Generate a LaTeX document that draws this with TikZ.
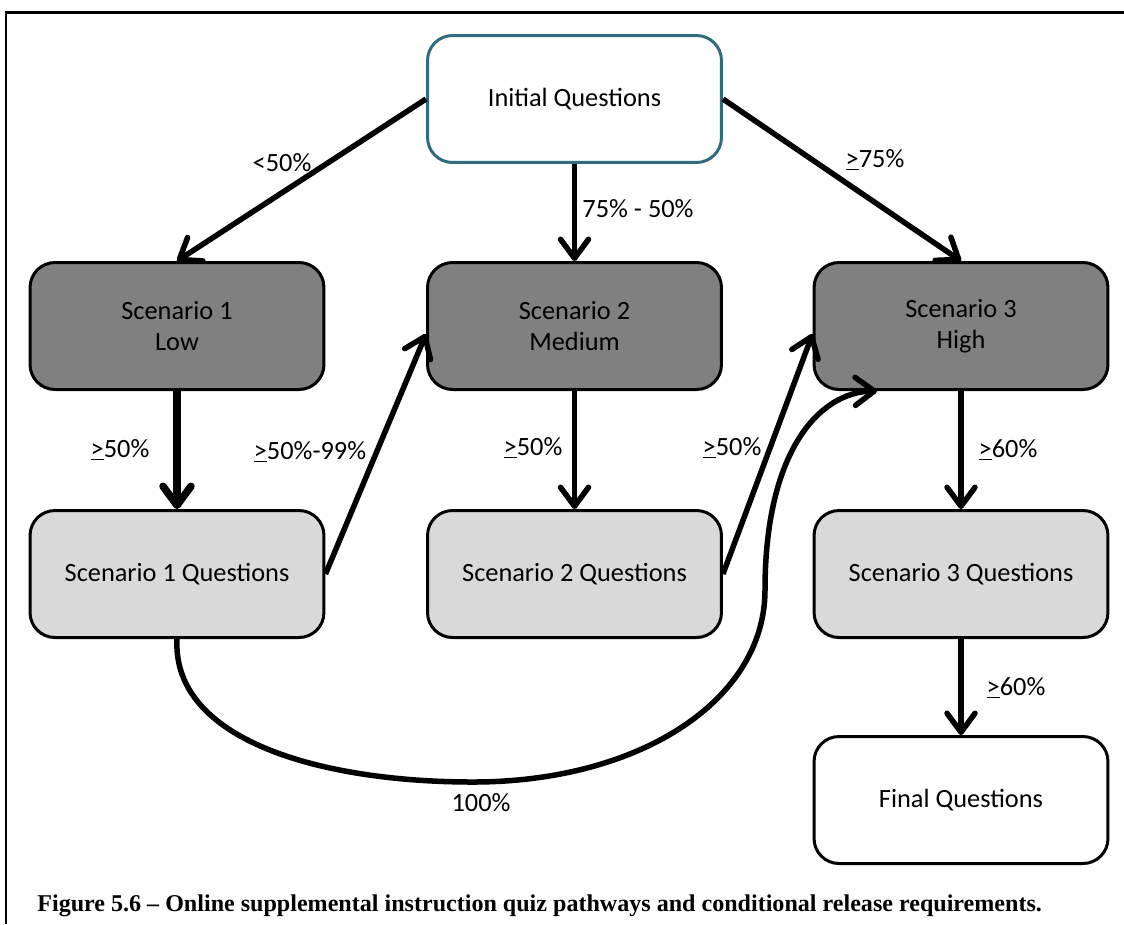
\documentclass[tikz,border=0pt]{standalone}
\usepackage{fontspec}
\setmainfont{Carlito}
\newfontfamily\capfont{Liberation Serif}
\usetikzlibrary{arrows.meta,calc}
\definecolor{tealborder}{HTML}{316B7E}
\definecolor{darkfill}{HTML}{808080}
\definecolor{lightfill}{HTML}{D9D9D9}
\begin{document}
\begin{tikzpicture}[x=0.02cm,y=-0.02cm,
  box/.style={draw=black, line width=0.06cm, rounded corners=0.5cm,
    minimum width=5.88cm, minimum height=2.54cm, align=center,
    font=\fontsize{15}{18}\selectfont, inner sep=0pt},
  darkbox/.style={box, fill=darkfill},
  lightbox/.style={box, fill=lightfill},
  whitebox/.style={box, fill=white},
  initbox/.style={box, fill=white, draw=tealborder},
  conn/.style={line width=0.11cm, -{Straight Barb[round,length=0.38cm,width=0.56cm]}},
  thickconn/.style={conn, line width=0.15cm},
  lbl/.style={font=\fontsize{15}{18}\selectfont, inner sep=0pt},
  caption/.style={font=\capfont\bfseries\fontsize{13.7}{16}\selectfont, inner sep=0pt, anchor=base west}]
\useasboundingbox (0,0) rectangle (1124,924);
\draw[line width=0.06cm] (6,924) -- (6,12) -- (1124,12);

\node[initbox]  (init) at (574.5,99) {Initial Questions};
\node[darkbox]  (s1)   at (177,326)  {Scenario 1\\Low};
\node[darkbox]  (s2)   at (574.5,326) {Scenario 2\\Medium};
\node[darkbox]  (s3)   at (961,326)  {Scenario 3\\High};
\node[lightbox] (s1q)  at (177,574)  {Scenario 1 Questions};
\node[lightbox] (s2q)  at (574.5,574) {Scenario 2 Questions};
\node[lightbox] (s3q)  at (961,574)  {Scenario 3 Questions};
\node[whitebox] (fin)  at (961,800)  {Final Questions};

\draw[conn] (init.west) -- (s1.north);
\draw[conn] (init.south) -- (s2.north);
\draw[conn] (init.east) -- (s3.north);
\draw[thickconn] (s1.south) -- (s1q.north);
\draw[conn] (s2.south) -- (s2q.north);
\draw[conn] (s3.south) -- (s3q.north);
\draw[conn] (s3q.south) -- (fin.north);
\draw[conn] (s1q.east) -- ([shift={(0,8)}]s2.west);
\draw[conn] (s2q.east) -- ([shift={(0,8)}]s3.west);
\draw[conn] (s1q.south) .. controls (172,740) and (320,782) .. (473,782)
  .. controls (640,782) and (765,700) .. (765,590)
  .. controls (765,450) and (820,392) .. ([shift={(-84,0)}]s3.south);

\node[lbl] (l1) at (282,163) {<50\%};
\node[lbl] (l2) at (638,209) {75\% - 50\%};
\node[lbl] (l3) at (875,160) {\underline{>}75\%};
\node[lbl] (l4) at (120,450) {\underline{>}50\%};
\node[lbl] (l5) at (310,452) {\underline{>}50\%-99\%};
\node[lbl] (l6) at (533,448) {\underline{>}50\%};
\node[lbl] (l7) at (732,448) {\underline{>}50\%};
\node[lbl] (l8) at (1008,450) {\underline{>}60\%};
\node[lbl] (l9) at (1016,688) {\underline{>}60\%};
\node[lbl] (l10) at (481,803) {100\%};

\node[caption] (cap) at (37,911) {Figure 5.6 – Online supplemental instruction quiz pathways and conditional release requirements.};
\end{tikzpicture}
\end{document}
